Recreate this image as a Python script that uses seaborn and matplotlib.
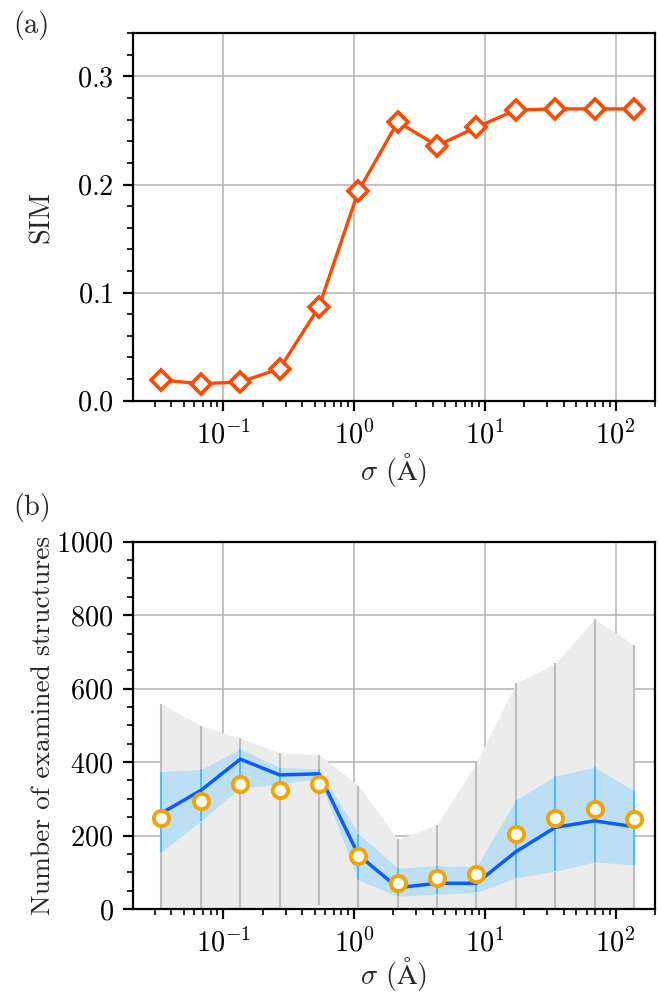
import numpy as np
import pandas as pd
import matplotlib
matplotlib.use("Agg")
import matplotlib.pyplot as plt
import seaborn as sns
from matplotlib.ticker import AutoMinorLocator

# Smoothing width sigma (Angstrom)
sigma = [0.0337, 0.0674, 0.135, 0.27, 0.539, 1.08, 2.16, 4.31, 8.63, 17.3, 34.5, 69.0, 138.0]

# (a) similarity measure
sim = [0.0191, 0.0157, 0.0173, 0.0296, 0.0866, 0.194, 0.258, 0.236, 0.253, 0.269, 0.270, 0.270, 0.270]

# (b) number of examined structures
n_mean = [261, 323, 408, 365, 368, 147, 58, 70, 70, 156, 222, 240, 224]
n_std_hi = [374, 380, 435, 385, 381, 205, 111, 118, 115, 297, 362, 386, 322]
n_std_lo = [155, 240, 329, 340, 356, 79, 35, 40, 45, 85, 103, 128, 120]
n_max = [559, 499, 465, 425, 420, 336, 190, 229, 399, 615, 669, 789, 719]
n_min = [3, 3, 3, 3, 10, 3, 0, 0, 0, 0, 0, 0, 0]
n_median = [247, 293, 340, 325, 339, 145, 70, 85, 95, 203, 247, 273, 244]

df = pd.DataFrame({
    "sigma": sigma, "sim": sim, "mean": n_mean, "hi": n_std_hi, "lo": n_std_lo,
    "max": n_max, "min": n_min, "median": n_median,
})

sns.set_style("ticks")
plt.rcParams.update({
    "font.family": ["serif"],
    "font.serif": ["cmr10", "DejaVu Serif"],
    "mathtext.fontset": "cm",
    "axes.formatter.use_mathtext": True,
    "font.size": 10.2,
    "axes.labelsize": 9.9,
    "xtick.labelsize": 10.2,
    "ytick.labelsize": 10.2,
    "axes.linewidth": 0.8,
    "axes.edgecolor": "black",
    "xtick.color": "black",
    "ytick.color": "black",
    "xtick.direction": "out",
    "ytick.direction": "out",
    "xtick.major.size": 3.5,
    "ytick.major.size": 3.5,
    "xtick.minor.size": 2.0,
    "ytick.minor.size": 2.0,
    "xtick.major.width": 0.8,
    "ytick.major.width": 0.8,
    "xtick.minor.width": 0.6,
    "ytick.minor.width": 0.6,
    "grid.color": "#b8b8b8",
    "grid.linewidth": 0.6,
})

fig = plt.figure(figsize=(6.59 / 2, 9.93 / 2), dpi=200)
ax1 = fig.add_axes([0.2018, 0.5965, 0.7921, 0.3700])
ax2 = fig.add_axes([0.2018, 0.0846, 0.7921, 0.3699])

red = "#ff4800"
sns.lineplot(data=df, x="sigma", y="sim", ax=ax1, color=red, linewidth=1.2,
             marker="D", markersize=5.0, markerfacecolor="white",
             markeredgecolor=red, markeredgewidth=1.3, zorder=3)

# min-max range and spread around the mean
ax2.fill_between(df["sigma"], df["min"], df["max"], color="#ececec", linewidth=0, zorder=1)
ax2.vlines(df["sigma"], df["min"], df["max"], color="#bdbdbd", linewidth=0.75, zorder=1.6)
ax2.fill_between(df["sigma"], df["lo"], df["hi"], color="#bcdff4", linewidth=0, zorder=1.7)
ax2.vlines(df["sigma"], df["lo"], df["hi"], color="#50bbf7", linewidth=0.7, zorder=1.8)
sns.lineplot(data=df, x="sigma", y="mean", ax=ax2, color="#0a5cff", linewidth=1.25, zorder=3)
sns.scatterplot(data=df, x="sigma", y="median", ax=ax2, s=30, color="white",
                edgecolor="#f5a300", linewidth=1.4, zorder=4)

for ax in (ax1, ax2):
    ax.set_xscale("log")
    ax.set_xlim(0.0204, 200)
    ax.grid(True, which="major")
    ax.yaxis.set_minor_locator(AutoMinorLocator())
    ax.tick_params(which="both", top=False, right=False)
    for sp in ax.spines.values():
        sp.set_visible(True)
        sp.set_color("black")

ax1.set_xlabel(r"$\sigma$ ($\mathrm{\AA}$)", labelpad=0.5, fontsize=10.2)
ax2.set_xlabel(r"$\sigma$ ($\mathrm{\AA}$)", labelpad=-1.0, fontsize=10.2)

ax1.set_ylim(0, 0.34)
ax1.set_yticks([0.0, 0.1, 0.2, 0.3])
ax1.set_ylabel("SIM", fontsize=10.2)
ax2.set_ylim(0, 1000)
ax2.set_yticks([0, 200, 400, 600, 800, 1000])
ax2.set_ylabel("Number of examined structures")
for ax in (ax1, ax2):
    ax.yaxis.set_label_coords(-0.150, 0.5)

fig.text(0.0197, 0.9748, "(a)", ha="left", va="center")
fig.text(0.0197, 0.4894, "(b)", ha="left", va="center")

fig.savefig("out.png", dpi=200)
